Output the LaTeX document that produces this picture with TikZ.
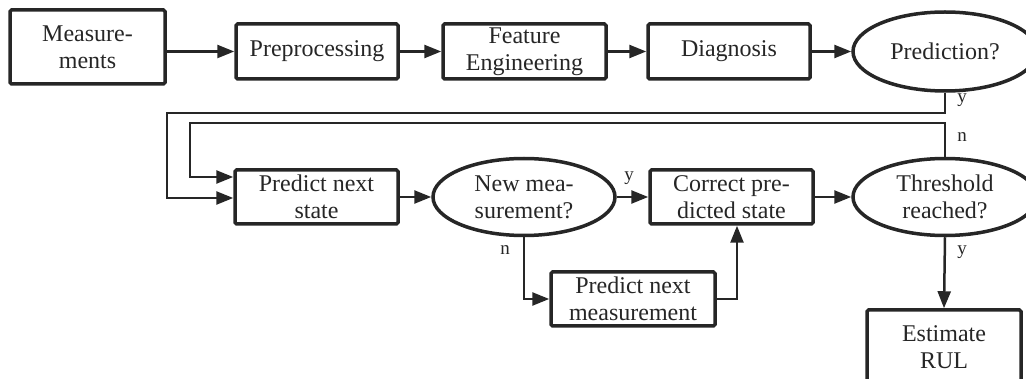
\documentclass[tikz,border=0pt]{standalone}
\usepackage{fontspec}
\setmainfont{Liberation Serif}
\usetikzlibrary{arrows.meta,shapes.geometric,calc}
\definecolor{ink}{HTML}{262626}
\begin{document}
\begin{tikzpicture}[x=1pt,y=-1pt,
  every node/.style={text=ink},
  block/.style={draw=ink,line width=3.5pt,rounded corners=1.5pt,align=center,inner sep=0pt,
    font=\fontsize{24}{27}\selectfont},
  decision/.style={ellipse,draw=ink,line width=3.5pt,align=center,inner sep=0pt,
    font=\fontsize{24}{27}\selectfont},
  link/.style={draw=ink,line width=2.5pt,-{Triangle[length=17pt,width=13pt]}},
  tag/.style={font=\fontsize{19}{20}\selectfont,inner sep=0pt}]
\useasboundingbox (0,0) rectangle (1026,379);

% first row
\node[block,minimum width=155pt,minimum height=74pt] (meas) at (87.5,47) {Measure-\\ments};
\node[block,minimum width=162pt,minimum height=55pt] (pre) at (317,51.5) {Preprocessing};
\node[block,minimum width=163pt,minimum height=55pt] (feat) at (524.5,51.5) {Feature\\Engineering};
\node[block,minimum width=162pt,minimum height=55pt] (diag) at (729,51.5) {Diagnosis};
\node[decision,minimum width=184pt,minimum height=79pt] (pred) at (945,51.5) {Prediction?};

% second row
\node[block,minimum width=163pt,minimum height=54pt] (pns) at (316.5,197) {Predict next\\state};
\node[decision,minimum width=182pt,minimum height=77pt] (newm) at (524,197) {New mea-\\surement?};
\node[block,minimum width=163pt,minimum height=54pt] (corr) at (731.5,197) {Correct pre-\\dicted state};
\node[decision,minimum width=184pt,minimum height=77pt] (thr) at (945,197) {Threshold\\reached?};

% third row
\node[block,minimum width=164pt,minimum height=54pt] (pnm) at (633,299) {Predict next\\measurement};
\node[block,minimum width=154pt,minimum height=74pt] (rul) at (944,347) {Estimate\\RUL};

% main chain
\draw[link] (meas.east |- pre.west) -- (pre.west);
\draw[link] (pre) -- (feat);
\draw[link] (feat) -- (diag);
\draw[link] (diag) -- (pred);

% loop entries into the state prediction
\coordinate (yin) at ($(pns.west)+(0,1)$);
\coordinate (nin) at ($(pns.west)+(0,-20)$);
\draw[link] (pred.south) |- (167,113) |- (yin);
\draw[link] (thr.north) |- (190,123) |- (nin);
\node[tag] at (962,100) {y};
\node[tag] at (962,137) {n};

% filter step
\draw[link] (pns) -- (newm);
\draw[link] (newm) -- (corr);
\node[tag] at (629,178) {y};
\draw[link] (newm.south) |- (pnm.west);
\node[tag] at (505,250) {n};
\coordinate (cin) at ($(corr.south)+(5.5,0)$);
\draw[link] (pnm.east) -| (cin);
\draw[link] (corr) -- (thr);
\draw[link] (thr.south) -- (rul.north);
\node[tag] at (962,252) {y};
\end{tikzpicture}
\end{document}
